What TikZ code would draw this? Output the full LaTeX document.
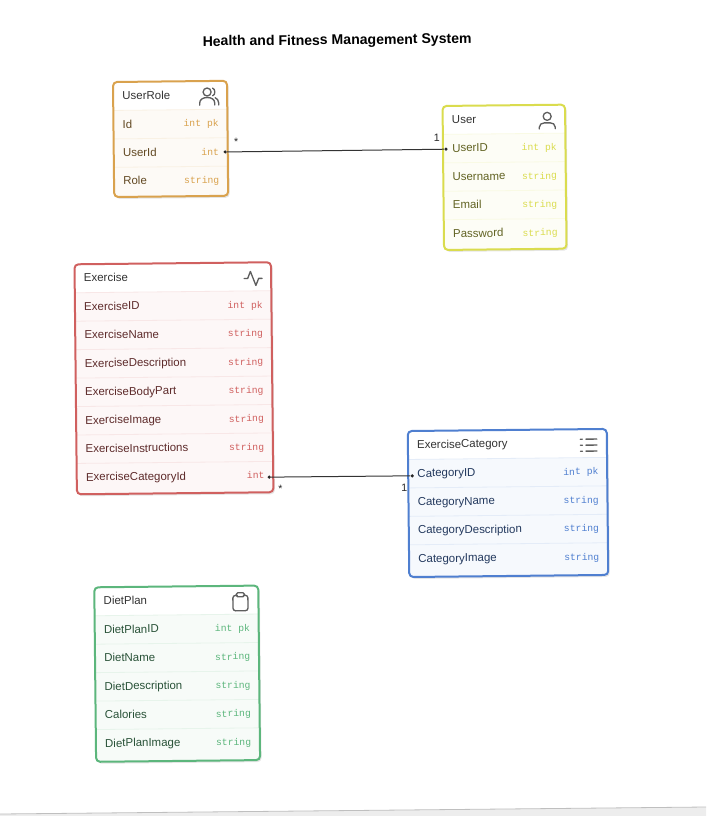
\documentclass[tikz,border=0pt]{standalone}
\usepackage{fontspec}
\setmainfont{Liberation Sans}
\setmonofont{Liberation Mono}
\usetikzlibrary{calc}

\definecolor{roleorange}{HTML}{D9A24E}
\definecolor{useryellow}{HTML}{DADC4E}
\definecolor{exercisered}{HTML}{D0605F}
\definecolor{categoryblue}{HTML}{4F7FD0}
\definecolor{dietgreen}{HTML}{5CB67C}
\definecolor{iconink}{HTML}{5E5E5E}

\tikzset{
  entityframe/.style={draw=#1, line width=1.5pt, rounded corners=3pt, inner sep=0pt, transform shape},
  entitytint/.style={fill=#1!5, inner sep=0pt, rounded corners=3pt, transform shape},
  entitytitle/.style={anchor=base west, inner sep=0pt, font=\fontsize{8.6}{10}\selectfont, text=black!80, transform shape},
  fieldname/.style={anchor=base west, inner sep=0pt, font=\fontsize{8.6}{10}\selectfont, text=#1!45!black, transform shape},
  fieldtype/.style={anchor=base east, inner sep=0pt, font=\ttfamily\fontsize{7.3}{9}\selectfont, text=#1, transform shape},
  enddot/.style={circle, fill=black!85, inner sep=0pt, minimum size=2.6pt, transform shape},
  cardlabel/.style={inner sep=0pt, font=\fontsize{8}{10}\selectfont, text=black!85, transform shape},
  iconline/.style={draw=iconink, line width=1pt, line cap=round, line join=round},
}

% name, left, top, width, height, colour, title, rows, icon
\newcommand{\entity}[9]{
  \fill[black, opacity=.10, rounded corners=3pt] (#2+1.5,#3+2) rectangle ++(#4,#5);
  \node[entitytint=#6, minimum width=#4*0.75pt, minimum height=#5*0.75pt] (#1-bg) at (#2+#4/2,#3+#5/2) {};
  \pgfmathsetmacro{\rowh}{28.45}
  \fill[white] (#2,#3+\rowh) [rounded corners=3pt] -- (#2,#3) -- (#2+#4,#3) [sharp corners] -- (#2+#4,#3+\rowh) -- cycle;
  \node[entitytitle] (#1-title) at (#2+9,#3+\rowh/2+3.3) {#7};
  \foreach \fld/\typ [count=\i] in {#8} {
    \draw[#6!15, line width=0.6pt] (#2,#3+\i*\rowh) -- (#2+#4,#3+\i*\rowh);
    \node[fieldname=#6] (#1-fld-\i) at (#2+9,#3+\i*\rowh+\rowh/2+3.5) {\fld};
    \node[fieldtype=#6] (#1-typ-\i) at (#2+#4-8.5,#3+\i*\rowh+\rowh/2+3) {\typ};
  }
  \begin{scope}[shift={(#2+#4-18,#3+16)}]
    #9
  \end{scope}
  \node[entityframe=#6, minimum width=#4*0.75pt, minimum height=#5*0.75pt] (#1) at (#2+#4/2,#3+#5/2) {};
}

\newcommand{\iconusers}{
  \draw[iconline] (-2,-5) circle (4);
  \draw[iconline] (-9.5,8) -- (-9.5,6) .. controls (-9.5,2.5) and (-6.5,0.5) .. (-2,0.5) .. controls (2.5,0.5) and (5.5,2.5) .. (5.5,6) -- (5.5,8);
  \draw[iconline] (3.5,-8.8) .. controls (6.5,-8) and (6.5,-2) .. (3.5,-1.2);
  \draw[iconline] (9.5,8) -- (9.5,6) .. controls (9.5,3.5) and (8,1.5) .. (6,0.8);
}
\newcommand{\iconuser}{
  \draw[iconline] (0,-4.5) circle (4);
  \draw[iconline] (-8,8) -- (-8,6.5) .. controls (-8,3.5) and (-5.5,2) .. (-3,2) -- (3,2) .. controls (5.5,2) and (8,3.5) .. (8,6.5) -- (8,8);
}
\newcommand{\iconactivity}{
  \draw[iconline] (-9,0) -- (-5.5,0) -- (-2.7,-7) -- (2.7,7) -- (5.5,0) -- (9,0);
}
\newcommand{\iconlist}{
  \foreach \ly in {-6,0,6} {
    \draw[iconline] (-3,\ly) -- (8,\ly);
    \draw[iconline] (-8.5,\ly) -- (-6.5,\ly);
  }
}
\newcommand{\iconclipboard}{
  \draw[iconline, rounded corners=2pt] (-3,-6.5) -- (-7.5,-6.5) -- (-7.5,9) -- (7.5,9) -- (7.5,-6.5) -- (3,-6.5);
  \draw[iconline, rounded corners=1pt] (-4,-9) rectangle (4,-5);
}

\begin{document}
\begin{tikzpicture}[x=0.75pt, y=-0.75pt]
  \useasboundingbox (0,0) rectangle (706,816);
  \fill[black!7] (0,814) -- (706,807) -- (706,816) -- (0,816) -- cycle;
  \draw[black!25, line width=0.6pt] (0,814) -- (706,807);

  \begin{scope}[rotate around={0.6:(353,408)}]
    \node[inner sep=0pt, font=\bfseries\fontsize{10.55}{12}\selectfont, transform shape] (title) at (341,41) {Health and Fitness Management System};

    \entity{UserRole}{116.4}{79.5}{114}{115}{roleorange}{UserRole}{Id/int pk, UserId/int, Role/string}{\iconusers}
    \entity{User}{445.7}{106.9}{122.5}{144}{useryellow}{User}{UserID/int pk, Username/string, Email/string, Password/string}{\iconuser}
    \entity{Exercise}{76}{261.4}{196.5}{230}{exercisered}{Exercise}{ExerciseID/int pk, ExerciseName/string, ExerciseDescription/string, ExerciseBodyPart/string, ExerciseImage/string, ExerciseInstructions/string, ExerciseCategoryId/int}{\iconactivity}
    \entity{ExerciseCategory}{407.5}{431.6}{199}{146}{categoryblue}{ExerciseCategory}{CategoryID/int pk, CategoryName/string, CategoryDescription/string, CategoryImage/string}{\iconlist}
    \entity{DietPlan}{92.4}{584.6}{164}{174.5}{dietgreen}{DietPlan}{DietPlanID/int pk, DietName/string, DietDescription/string, Calories/string, DietPlanImage/string}{\iconclipboard}

    % ends of the two relations
    \node[enddot] (roleend) at ($(UserRole-typ-2.east)+(6,0.5)$) {};
    \node[enddot] (userend) at ($(User-fld-1.west)+(-6,1)$) {};
    \node[enddot] (exerciseend) at ($(Exercise-typ-7.east)+(4.5,2)$) {};
    \node[enddot] (categoryend) at ($(ExerciseCategory-fld-1.west)+(-5,1.5)$) {};
    \draw[black!80, line width=0.75pt] (roleend) -- (userend);
    \draw[black!80, line width=0.75pt] (exerciseend) -- (categoryend);

    \node[cardlabel] (rolecard) at ($(roleend)+(11,-10)$) {*};
    \node[cardlabel] (usercard) at ($(userend)+(-9,-11)$) {1};
    \node[cardlabel] (exercisecard) at ($(exerciseend)+(11,12)$) {*};
    \node[cardlabel] (categorycard) at ($(categoryend)+(-8,12)$) {1};
  \end{scope}
\end{tikzpicture}
\end{document}
